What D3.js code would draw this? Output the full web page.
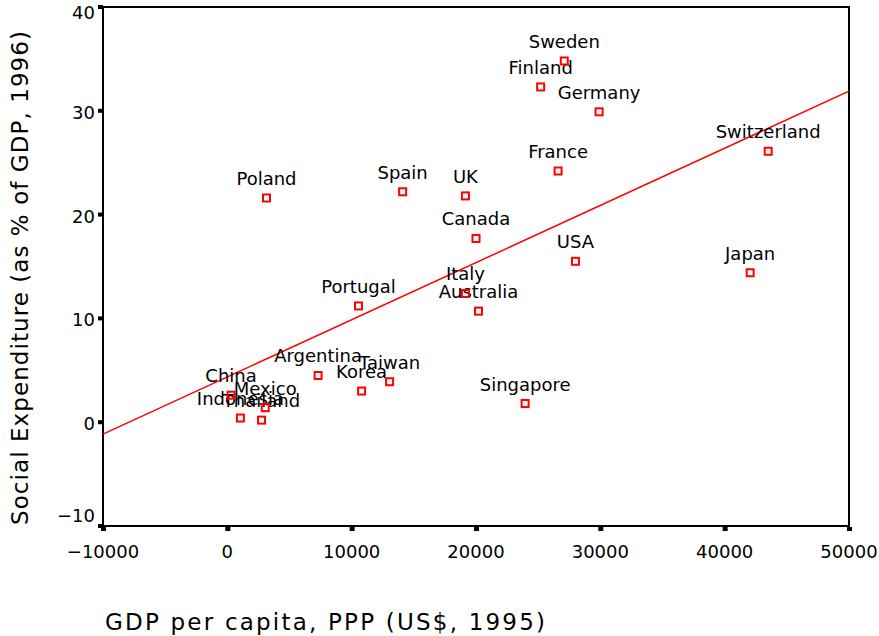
<!DOCTYPE html>
<html>
<head>
<meta charset="utf-8">
<script src="https://cdn.jsdelivr.net/npm/d3@7"></script>
<style>
  body { margin: 0; background: #fff; }
  text { font-family: "DejaVu Sans", sans-serif; fill: #000; }
</style>
</head>
<body>
<svg id="chart" width="879" height="636"></svg>
<script>
// countries, GDP per capita PPP 1995, social expenditure % of GDP 1996
var countries = ["Sweden","Finland","Germany","Switzerland","France","Poland","Spain","UK","Canada","USA","Japan","Italy","Australia","Portugal","Argentina","Korea","Taiwan","Singapore","China","Mexico","Indonesia","Thailand"]
var gdp = [27100,25200,29900,43500,26600,3150,14100,19150,20000,28000,42050,19150,20200,10550,7300,10800,13050,23950,300,3050,1050,2750]
var social = [34.8,32.3,29.9,26.1,24.2,21.6,22.2,21.8,17.7,15.5,14.4,12.4,10.7,11.2,4.5,3.0,3.9,1.8,2.6,1.4,0.4,0.2]

var xTicks = [-10000,0,10000,20000,30000,40000,50000]
var yTicks = [-10,0,10,20,30,40]

// fitted line
var fitX = [-10000,50000]
var fitY = [-1.15,31.9]

var svg = d3.select("#chart")
var m = {left:103, right:849, top:7, bottom:526}

var x = d3.scaleLinear().domain([-10000,50000]).range([m.left,m.right])
var y = d3.scaleLinear().domain([-10,40]).range([m.bottom,m.top])

// frame
svg.append("rect")
    .attr("x",m.left).attr("y",m.top)
    .attr("width",m.right-m.left).attr("height",m.bottom-m.top)
    .attr("fill","none").attr("stroke","#000").attr("stroke-width",2)

// y axis ticks and labels
var yAxis = svg.append("g")
yAxis.selectAll("rect").data(yTicks).enter().append("rect")
    .attr("x",m.left-5).attr("y",function(d) {return y(d)-2})
    .attr("width",5).attr("height",4).attr("fill","#000")
// end labels get pushed inside so they are not clipped
yAxis.selectAll("text").data(yTicks).enter().append("text")
    .attr("x",m.left-8).attr("y",function(d) {return Math.max(19, Math.min(522, y(d)+8))})
    .attr("text-anchor","end").style("font-size","18px")
    .text(function(d) {return d < 0 ? "\u2212" + Math.abs(d) : d})

// x axis ticks and labels
var xAxis = svg.append("g")
xAxis.selectAll("rect").data(xTicks).enter().append("rect")
    .attr("x",function(d) {return x(d)-2}).attr("y",m.bottom+1)
    .attr("width",5).attr("height",4).attr("fill","#000")
xAxis.selectAll("text").data(xTicks).enter().append("text")
    .attr("x",function(d) {return x(d)}).attr("y",m.bottom+32)
    .attr("text-anchor","middle").style("font-size","18px")
    .text(function(d) {return d < 0 ? "\u2212" + Math.abs(d) : d})

// axis titles
svg.append("text")
    .attr("transform","translate(28,278) rotate(-90)")
    .attr("text-anchor","middle").style("font-size","23px")
    .attr("textLength",494).attr("lengthAdjust","spacing")
    .text("Social Expenditure (as % of GDP, 1996)")
svg.append("text")
    .attr("x",105).attr("y",630)
    .style("font-size","23px")
    .attr("textLength",440).attr("lengthAdjust","spacing")
    .text("GDP per capita, PPP (US$, 1995)")

// regression line
svg.append("line")
    .attr("x1",x(fitX[0])).attr("y1",y(fitY[0]))
    .attr("x2",x(fitX[1])).attr("y2",y(fitY[1]))
    .attr("stroke","red").attr("stroke-width",1.5)

var pts = countries.map(function(c,i) {return {name:c, x:gdp[i], y:social[i]}})

// labels first, squares on top
svg.append("g").selectAll("text").data(pts).enter().append("text")
    .attr("x",function(d) {return x(d.x)})
    .attr("y",function(d) {return y(d.y)-13})
    .attr("text-anchor","middle").style("font-size","18px")
    .text(function(d) {return d.name})

svg.append("g").selectAll("rect").data(pts).enter().append("rect")
    .attr("x",function(d) {return x(d.x)-3.5})
    .attr("y",function(d) {return y(d.y)-3.5})
    .attr("width",7).attr("height",7)
    .attr("fill","none").attr("stroke","red").attr("stroke-width",2)
</script>
</body>
</html>
